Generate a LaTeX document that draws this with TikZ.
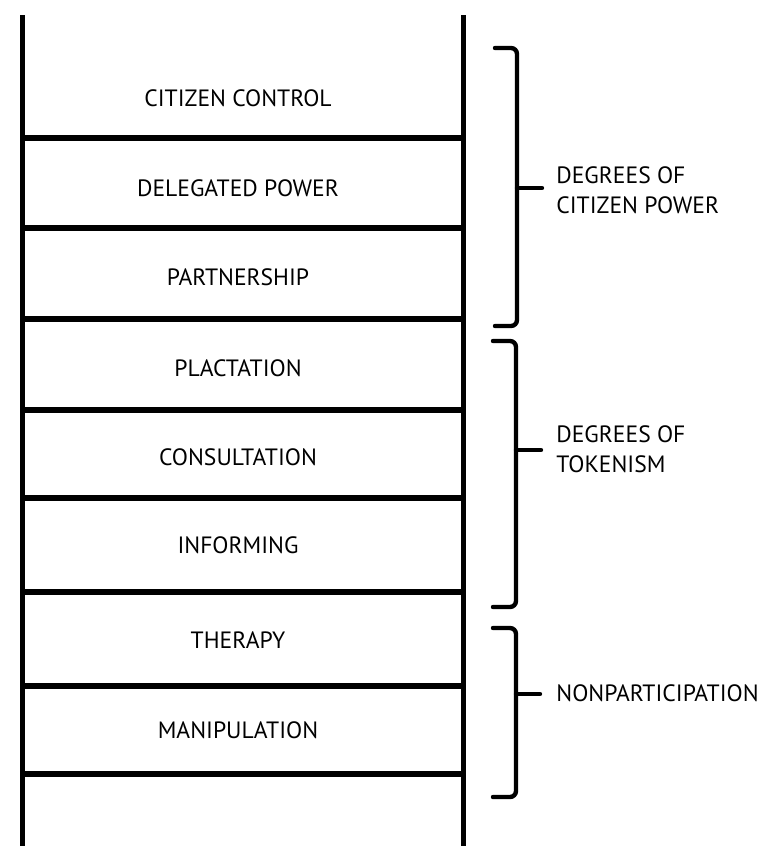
\documentclass[tikz,border=0pt]{standalone}
\usepackage{fontspec}
\setmainfont{PT Sans}
\usetikzlibrary{positioning}

\tikzset{
  rail/.style={line width=2.5pt},
  rung/.style={line width=3pt},
  brace/.style={line width=2.2pt, line cap=round, rounded corners=3pt},
  rungtext/.style={inner sep=0pt, font=\fontsize{11.8}{15}\selectfont},
  grouptext/.style={anchor=west, align=left, inner sep=0pt, font=\fontsize{11.8}{15}\selectfont}
}

\begin{document}
\begin{tikzpicture}[x=0.5pt, y=-0.5pt]
			%%%%% START %%%%%
			\useasboundingbox (0, 0) rectangle (763, 846);
			
			% rails
			\draw[rail] (22, 15) -- (22, 846);
			\draw[rail] (463, 15) -- (463, 846);
			
			% rungs
			\draw[rung] (22, 138) -- (463, 138);
			\draw[rung] (22, 228) -- (463, 228);
			\draw[rung] (22, 319) -- (463, 319);
			\draw[rung] (22, 410) -- (463, 410);
			\draw[rung] (22, 498) -- (463, 498);
			\draw[rung] (22, 592) -- (463, 592);
			\draw[rung] (22, 686) -- (463, 686);
			\draw[rung] (22, 774) -- (463, 774);
			
			% rung labels
			\node[rungtext] (control)     at (238, 98)  {CITIZEN CONTROL};
			\node[rungtext] (delegated)   at (238, 188) {DELEGATED POWER};
			\node[rungtext] (partnership) at (238, 277) {PARTNERSHIP};
			\node[rungtext] (placation)   at (238, 368) {PLACTATION};
			\node[rungtext] (consultation) at (238, 457) {CONSULTATION};
			\node[rungtext] (informing)   at (238, 545) {INFORMING};
			\node[rungtext] (therapy)     at (238, 640) {THERAPY};
			\node[rungtext] (manipulation) at (238, 730) {MANIPULATION};
			
			% braces
			\draw[brace] (495, 48) -- (517, 48) -- (517, 326) -- (495, 326);
			\draw[brace] (517, 188) -- (542, 188);
			\draw[brace] (493, 341) -- (516, 341) -- (516, 607) -- (493, 607);
			\draw[brace] (516, 450) -- (541, 450);
			\draw[brace] (493, 628) -- (516, 628) -- (516, 797) -- (493, 797);
			\draw[brace] (516, 694) -- (540, 694);
			
			% group labels
			\node[grouptext] (power)    at (556, 190) {DEGREES OF\\CITIZEN POWER};
			\node[grouptext] (tokenism) at (556, 449) {DEGREES OF\\TOKENISM};
			\node[grouptext] (nonpart)  at (556, 693) {NONPARTICIPATION};
			
			%%%%% END %%%%%
\end{tikzpicture}
\end{document}
